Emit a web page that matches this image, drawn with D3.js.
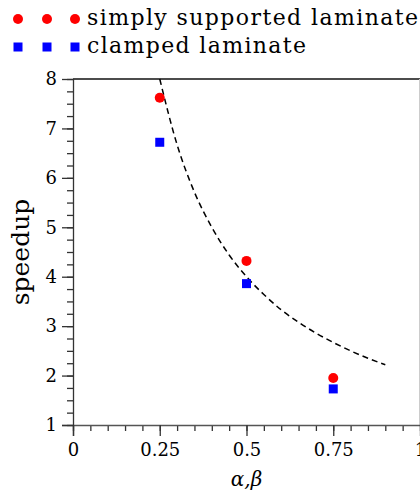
<!DOCTYPE html>
<html>
<head>
<meta charset="utf-8">
<script src="https://cdn.jsdelivr.net/npm/d3@7"></script>
<style>
  body { margin: 0; background: #fff; }
  svg text { font-family: "DejaVu Serif", "Liberation Serif", serif !important; fill: #000; }
</style>
</head>
<body>
<div id="chart"></div>
<script>
// Data
var ratios = [0.25, 0.5, 0.75];
var simplySupported = [7.62, 4.32, 1.95];
var clamped = [6.72, 3.86, 1.73];
// dashed reference curve (ideal speedup)
var idealX = [0.25, 0.3, 0.35, 0.4, 0.45, 0.5, 0.55, 0.6, 0.65, 0.7, 0.75, 0.8, 0.85, 0.9];
var idealY = [8, 6.67, 5.71, 5, 4.44, 4, 3.64, 3.33, 3.08, 2.86, 2.67, 2.5, 2.35, 2.22];
var xTicks = [0, 0.25, 0.5, 0.75, 1];
var xTickLabels = ["0", "0.25", "0.5", "0.75", "1"];
var yTicks = [1, 2, 3, 4, 5, 6, 7, 8];
var legendLabels = ["simply supported laminate", "clamped laminate"];

(function() {
  var W = 420, H = 492;
  var serif = "DejaVu Serif, Liberation Serif, serif";
  var margin = { top: 79, left: 73 };
  var width = 347, height = 346;

  var svg = d3.select("#chart").append("svg")
      .attr("width", W)
      .attr("height", H)
      .attr("font-family", serif);

  var g = svg.append("g")
      .attr("transform", "translate(" + margin.left + "," + margin.top + ")");

  var x = d3.scaleLinear().domain([0, 1]).range([0, width]);
  var y = d3.scaleLinear().domain([1, 8]).range([height, 0]);

  // frame: top and right
  g.append("line")
      .attr("x1", 0).attr("x2", width)
      .attr("y1", 0).attr("y2", 0)
      .attr("stroke", "#111").attr("stroke-width", 1.3);
  g.append("line")
      .attr("x1", width - 0.5).attr("x2", width - 0.5)
      .attr("y1", 0).attr("y2", height)
      .attr("stroke", "#ccc").attr("stroke-width", 1);

  // minor ticks
  var xMinor = d3.range(0, 1.0001, 0.05);
  var yMinor = d3.range(1, 8.0001, 0.25);

  g.append("g")
      .attr("transform", "translate(0," + height + ")")
      .call(d3.axisBottom(x).tickValues(xMinor).tickSize(6).tickFormat(""))
      .call(function(s) { s.select(".domain").remove(); })
      .selectAll("line").attr("stroke", "#333").attr("stroke-width", 1.3);

  g.append("g")
      .call(d3.axisLeft(y).tickValues(yMinor).tickSize(6).tickFormat(""))
      .call(function(s) { s.select(".domain").remove(); })
      .selectAll("line").attr("stroke", "#333").attr("stroke-width", 1.3);

  // major axes
  var xAxis = g.append("g")
      .attr("transform", "translate(0," + height + ")")
      .call(d3.axisBottom(x).tickValues(xTicks).tickSize(11).tickSizeOuter(0)
        .tickFormat(function(d, i) { return xTickLabels[i]; }));
  xAxis.attr("font-family", serif);
  xAxis.select(".domain").attr("stroke", "#555").attr("stroke-width", 1.6)
      .attr("d", "M-11,0.5H" + width);
  xAxis.selectAll("line").attr("stroke", "#333").attr("stroke-width", 1.3);
  xAxis.selectAll("text")
      .attr("font-size", 18).attr("dy", "0.71em").attr("y", 18);

  var yAxis = g.append("g")
      .call(d3.axisLeft(y).tickValues(yTicks).tickSize(11).tickSizeOuter(0)
        .tickFormat(d3.format("d")));
  yAxis.attr("font-family", serif);
  yAxis.select(".domain").attr("stroke", "#333").attr("stroke-width", 1.3)
      .attr("d", "M0.5,0V" + (height + 11));
  yAxis.selectAll("line").attr("stroke", "#333").attr("stroke-width", 1.3);
  yAxis.selectAll("text")
      .attr("font-size", 18).attr("x", -16);

  // axis titles
  svg.append("text")
      .attr("x", margin.left + x(0.5))
      .attr("y", 486)
      .attr("text-anchor", "middle")
      .attr("font-size", 20)
      .attr("font-style", "italic")
      .text("α,β");

  svg.append("text")
      .attr("transform", "translate(29," + 252 + ") rotate(-90)")
      .attr("text-anchor", "middle")
      .attr("font-size", 25)
      .text("speedup");

  // dashed curve
  var line = d3.line()
      .x(function(d) { return x(d[0]); })
      .y(function(d) { return y(d[1]); })
      .curve(d3.curveMonotoneX);

  g.append("path")
      .datum(d3.zip(idealX, idealY))
      .attr("d", line)
      .attr("fill", "none")
      .attr("stroke", "#000")
      .attr("stroke-width", 1.5)
      .attr("stroke-dasharray", "6,4");

  // data points
  g.selectAll("circle.ss")
      .data(d3.zip(ratios, simplySupported))
    .enter().append("circle")
      .attr("class", "ss")
      .attr("cx", function(d) { return x(d[0]); })
      .attr("cy", function(d) { return y(d[1]); })
      .attr("r", 5)
      .attr("fill", "#ff0000");

  g.selectAll("rect.cl")
      .data(d3.zip(ratios, clamped))
    .enter().append("rect")
      .attr("class", "cl")
      .attr("x", function(d) { return x(d[0]) - 4.5; })
      .attr("y", function(d) { return y(d[1]) - 4.5; })
      .attr("width", 9)
      .attr("height", 9)
      .attr("fill", "#0000ff");

  // legend
  var legend = svg.append("g");
  var markerX = [18, 47, 75];

  legend.selectAll("circle")
      .data(markerX)
    .enter().append("circle")
      .attr("cx", function(d) { return d; })
      .attr("cy", 19)
      .attr("r", 5)
      .attr("fill", "#ff0000");

  legend.selectAll("rect")
      .data(markerX)
    .enter().append("rect")
      .attr("x", function(d) { return d - 4.5; })
      .attr("y", 42.5)
      .attr("width", 9)
      .attr("height", 9)
      .attr("fill", "#0000ff");

  legend.append("text")
      .attr("x", 87).attr("y", 25)
      .attr("font-size", 22)
      .attr("textLength", 331)
      .attr("lengthAdjust", "spacing")
      .text(legendLabels[0]);

  legend.append("text")
      .attr("x", 87).attr("y", 53)
      .attr("font-size", 22)
      .attr("textLength", 219)
      .attr("lengthAdjust", "spacing")
      .text(legendLabels[1]);
})();
</script>
</body>
</html>
